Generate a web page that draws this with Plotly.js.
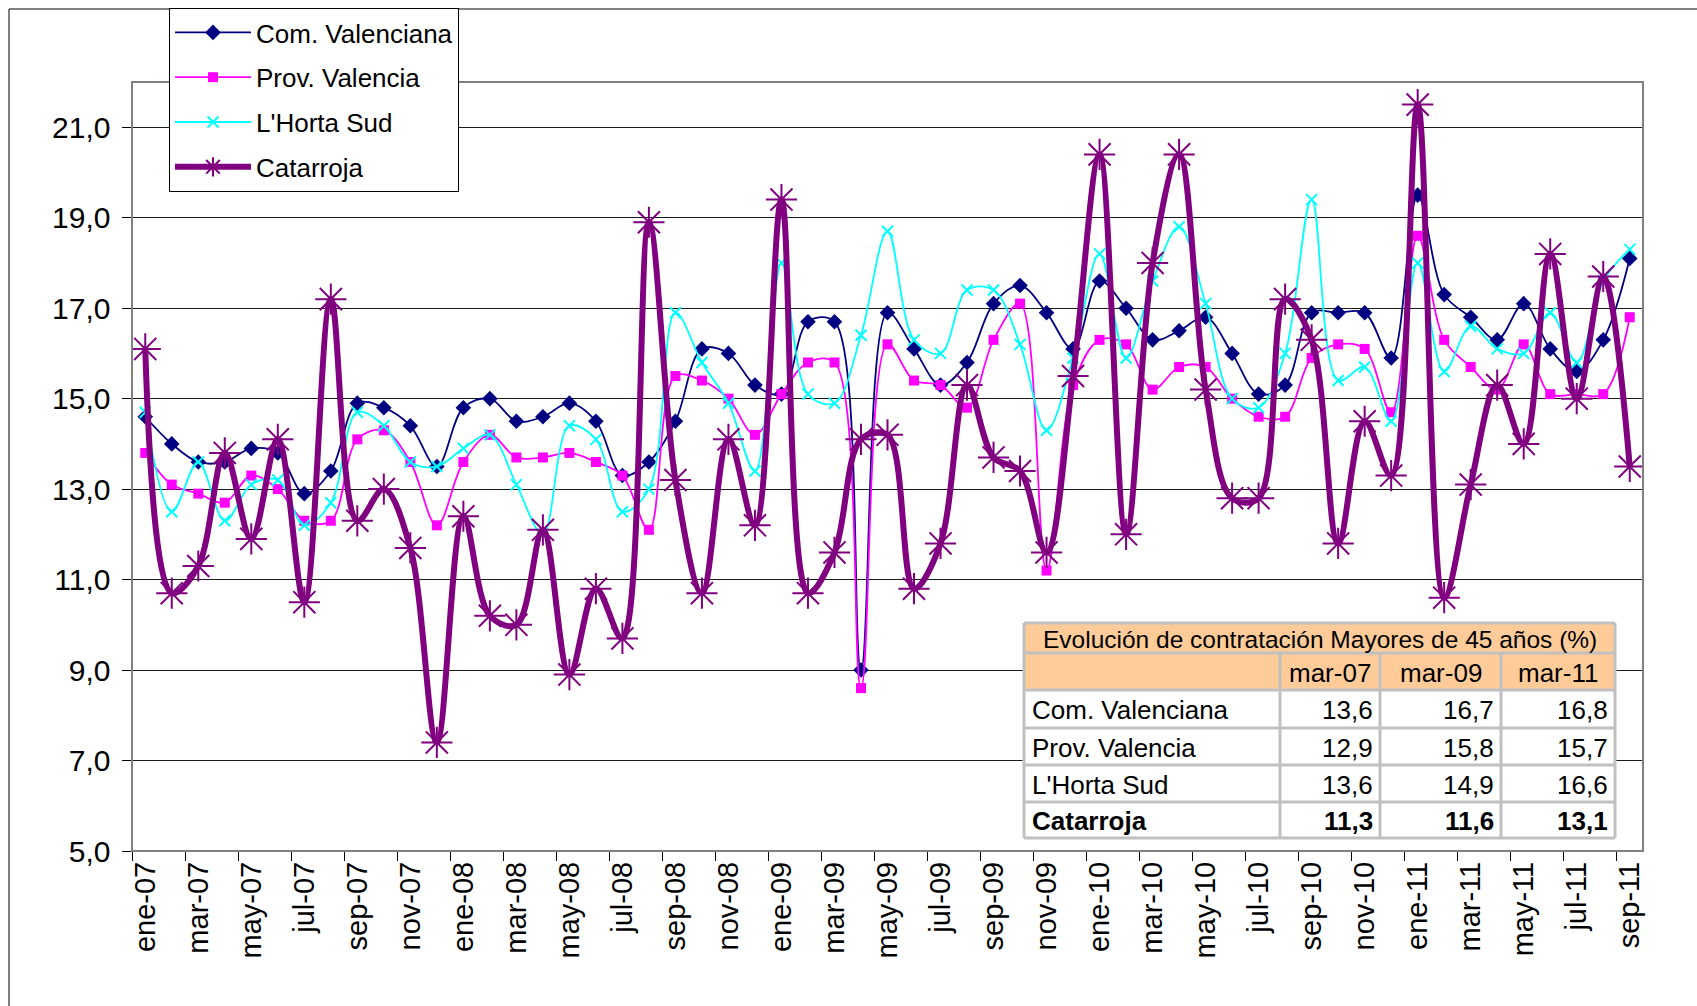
<!DOCTYPE html>
<html><head><meta charset="utf-8">
<script src="https://cdn.plot.ly/plotly-3.0.1.min.js"></script>
<style>html,body{margin:0;padding:0;background:#fff;} #chart{width:1697px;height:1006px;}</style>
</head><body><div id="chart"></div>
<script>
// ---------- DATA ----------
const months = [
 'ene-07','feb-07','mar-07','abr-07','may-07','jun-07','jul-07','ago-07','sep-07','oct-07','nov-07','dic-07',
 'ene-08','feb-08','mar-08','abr-08','may-08','jun-08','jul-08','ago-08','sep-08','oct-08','nov-08','dic-08',
 'ene-09','feb-09','mar-09','abr-09','may-09','jun-09','jul-09','ago-09','sep-09','oct-09','nov-09','dic-09',
 'ene-10','feb-10','mar-10','abr-10','may-10','jun-10','jul-10','ago-10','sep-10','oct-10','nov-10','dic-10',
 'ene-11','feb-11','mar-11','abr-11','may-11','jun-11','jul-11','ago-11','sep-11'];

const comValenciana = [
 14.6,14.0,13.6,13.6,13.9,13.8,12.9,13.4,14.9,14.8,14.4,13.5,
 14.8,15.0,14.5,14.6,14.9,14.5,13.3,13.6,14.5,16.1,16.0,15.3,
 15.1,16.7,16.7,9.0,16.9,16.1,15.3,15.8,17.1,17.5,16.9,16.1,
 17.6,17.0,16.3,16.5,16.8,16.0,15.1,15.3,16.9,16.9,16.9,15.9,
 19.5,17.3,16.8,16.3,17.1,16.1,15.6,16.3,18.1];

const provValencia = [
 13.8,13.1,12.9,12.7,13.3,13.0,12.3,12.3,14.1,14.3,13.6,12.2,
 13.6,14.2,13.7,13.7,13.8,13.6,13.3,12.1,15.5,15.4,15.0,14.2,
 15.1,15.8,15.8,8.6,16.2,15.4,15.3,14.8,16.3,17.1,11.2,15.3,
 16.3,16.2,15.2,15.7,15.7,15.0,14.6,14.6,15.9,16.2,16.1,14.7,
 18.6,16.3,15.7,15.2,16.2,15.1,15.1,15.1,16.8];

const hortaSud = [
 14.7,12.5,13.6,12.3,13.1,13.2,12.2,12.7,14.7,14.4,13.6,13.5,
 13.9,14.2,13.1,12.0,14.4,14.1,12.5,13.0,16.9,15.8,14.9,13.4,
 18.0,15.1,14.9,16.4,18.7,16.3,16.0,17.4,17.4,16.2,14.3,15.9,
 18.2,15.9,17.6,18.8,17.1,15.0,14.8,16.0,19.4,15.4,15.7,14.5,
 18.0,15.6,16.6,16.1,16.0,16.9,15.8,17.6,18.3];

const catarroja = [
 16.1,10.7,11.3,13.8,11.9,14.1,10.5,17.2,12.3,13.0,11.7,7.4,
 12.4,10.2,10.0,12.1,8.9,10.8,9.7,18.9,13.2,10.7,14.1,12.2,
 19.4,10.7,11.6,14.1,14.2,10.8,11.8,15.3,13.7,13.4,11.6,15.5,
 20.4,12.0,18.0,20.4,15.2,12.8,12.8,17.2,16.3,11.8,14.5,13.3,
 21.5,10.6,13.1,15.3,14.0,18.2,15.0,17.7,13.5];

const seriesNames = ['Com. Valenciana','Prov. Valencia',"L'Horta Sud",'Catarroja'];

const tableTitle = 'Evolución de contratación Mayores de 45 años (%)';
const tableCols = ['mar-07','mar-09','mar-11'];
const tableComVal = [13.6,16.7,16.8];
const tableProv   = [12.9,15.8,15.7];
const tableHorta  = [13.6,14.9,16.6];
const tableCat    = [11.3,11.6,13.1];

// ---------- LAYOUT HELPERS ----------
const W = 1697, H = 1006;
const L = 132, R = 1643, T = 82, B = 851;
const px2x = p => (p - L) / (R - L);
const py2y = p => 1 - (p - T) / (B - T);
const FONT = '"Liberation Sans", Arial, sans-serif';

const traces = [
  {x: months, y: comValenciana, name: seriesNames[0], legendgroup: 'g0', type: 'scatter', mode: 'lines+markers',
   line: {color: '#000080', width: 1.8, shape: 'spline', smoothing: 1},
   marker: {symbol: 'diamond', size: 12, color: '#000080'}},
  {x: months, y: provValencia, name: seriesNames[1], legendgroup: 'g1', type: 'scatter', mode: 'lines+markers',
   line: {color: '#FF00FF', width: 1.8, shape: 'spline', smoothing: 1},
   marker: {symbol: 'square', size: 10, color: '#FF00FF'}},
  {x: months, y: hortaSud, name: seriesNames[2], legendgroup: 'g2', type: 'scatter', mode: 'lines+markers',
   line: {color: '#00FFFF', width: 1.8, shape: 'spline', smoothing: 1},
   marker: {symbol: 'x-thin-open', size: 11, color: '#00FFFF', line: {color: '#00FFFF', width: 2}}},
  {x: months, y: catarroja, name: seriesNames[3], legendgroup: 'g3', type: 'scatter', mode: 'lines+markers',
   line: {color: '#800080', width: 6, shape: 'spline', smoothing: 1},
   marker: {symbol: 'asterisk-open', size: 26, color: '#800080', line: {color: '#800080', width: 2}}}
];

const shapes = [];
const annotations = [];

// outer chart border (partially visible)
shapes.push({type: 'line', xref: 'paper', yref: 'paper', x0: px2x(9), x1: px2x(W + 5), y0: py2y(9), y1: py2y(9), line: {color: '#000', width: 1}});
shapes.push({type: 'line', xref: 'paper', yref: 'paper', x0: px2x(9), x1: px2x(9), y0: py2y(9), y1: py2y(H + 5), line: {color: '#000', width: 1}});
// plot area border
shapes.push({type: 'rect', xref: 'paper', yref: 'paper', x0: 0, x1: 1, y0: 0, y1: 1, line: {color: '#808080', width: 2}});

// table
const colX = [1024, 1280, 1380, 1501, 1615];
const rowY = [623, 653, 690, 728, 765, 802, 838];
const PEACH = '#FFCC99', GRID = '#C0C0C0';
const rect = (x0, y0, x1, y1, fill) => ({type: 'rect', xref: 'paper', yref: 'paper', layer: 'above',
  x0: px2x(x0), x1: px2x(x1), y0: py2y(y1), y1: py2y(y0), fillcolor: fill, line: {width: 0}});
const line = (x0, y0, x1, y1) => ({type: 'line', xref: 'paper', yref: 'paper', layer: 'above',
  x0: px2x(x0), x1: px2x(x1), y0: py2y(y0), y1: py2y(y1), line: {color: GRID, width: 3}});
shapes.push(rect(colX[0], rowY[0], colX[4], rowY[6], '#FFFFFF'));
shapes.push(rect(colX[0], rowY[0], colX[4], rowY[2], PEACH));
rowY.forEach(y => shapes.push(line(colX[0], y, colX[4], y)));
shapes.push(line(colX[0], rowY[0], colX[0], rowY[6]));
shapes.push(line(colX[4], rowY[0], colX[4], rowY[6]));
for (let c = 1; c < 4; c++) shapes.push(line(colX[c], rowY[1], colX[c], rowY[6]));

const ann = (text, x, y, xanchor, bold, size) => ({xref: 'paper', yref: 'paper', x: px2x(x), y: py2y(y),
  text: bold ? '<b>' + text + '</b>' : text, showarrow: false, xanchor: xanchor, yanchor: 'middle',
  font: {family: FONT, size: size || 26, color: '#000'}});
annotations.push(ann(tableTitle, (colX[0] + colX[4]) / 2, (rowY[0] + rowY[1]) / 2 + 1, 'center', false, 24.5));
tableCols.forEach((c, i) => annotations.push(ann(c, (colX[i + 1] + colX[i + 2]) / 2, (rowY[1] + rowY[2]) / 2 + 1, 'center', false)));
const tableVals = [tableComVal, tableProv, tableHorta, tableCat];
const fmt = v => v.toFixed(1).replace('.', ',');
seriesNames.forEach((n, r) => {
  const yc = (rowY[r + 2] + rowY[r + 3]) / 2 + 1;
  const bold = r === 3;
  annotations.push(ann(n, colX[0] + 6, yc, 'left', bold));
  tableVals[r].forEach((v, c) => annotations.push(ann(fmt(v), colX[c + 2] - 5, yc, 'right', bold)));
});

const layout = {
  width: W, height: H,
  margin: {l: L, r: W - R, t: T, b: H - B, pad: 0, autoexpand: false},
  paper_bgcolor: '#fff', plot_bgcolor: '#fff',
  separators: ',.',
  font: {family: FONT, size: 28, color: '#000'},
  showlegend: true,
  legend: {x: px2x(169), y: py2y(8), xanchor: 'left', yanchor: 'top',
    bgcolor: '#fff', bordercolor: '#000', borderwidth: 1,
    font: {family: FONT, size: 26, color: '#000'}, itemwidth: 76, tracegroupgap: 8,
    traceorder: 'grouped'},
  xaxis: {type: 'category', range: [-0.5, months.length - 0.5], tickmode: 'linear', tick0: 0, dtick: 2,
    tickson: 'boundaries', ticks: 'outside', ticklen: 9, tickcolor: '#000', tickwidth: 1,
    tickangle: -90, showgrid: false, zeroline: false, showline: false, ticklabelstandoff: 4,
    tickfont: {family: FONT, size: 29, color: '#000'}, fixedrange: true, automargin: false},
  yaxis: {range: [5, 22], tickmode: 'linear', tick0: 5, dtick: 2, tickformat: '.1f',
    ticks: 'outside', ticklen: 9, tickcolor: '#000', tickwidth: 1, ticklabelstandoff: 5,
    showgrid: true, gridcolor: '#1a1a1a', gridwidth: 1, zeroline: false,
    showline: true, linecolor: '#000', linewidth: 1.5,
    tickfont: {family: FONT, size: 30, color: '#000'}, fixedrange: true, automargin: false},
  shapes: shapes,
  annotations: annotations
};

Plotly.newPlot('chart', traces, layout, {displayModeBar: false, staticPlot: true});
</script>
</body></html>
